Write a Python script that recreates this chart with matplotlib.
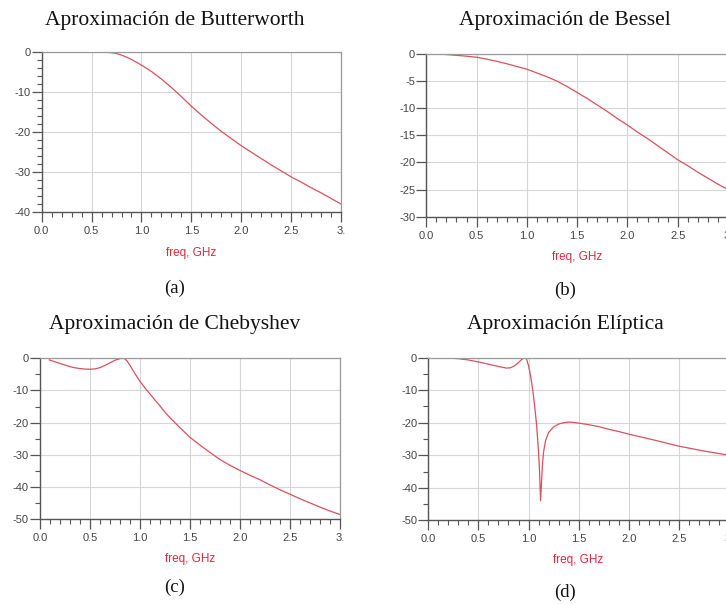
import numpy as np
import matplotlib.pyplot as plt
from matplotlib.ticker import MultipleLocator

plt.rcParams["axes.unicode_minus"] = False

# frequency response curves, freq in GHz, magnitude in dB
freq_butter = [0.0, 0.2, 0.4, 0.6, 0.65, 0.7, 0.75, 0.8, 0.85, 0.9, 0.95, 1.0, 1.05, 1.1, 1.2, 1.3,
               1.4, 1.5, 1.6, 1.7, 1.8, 1.9, 2.0, 2.1, 2.2, 2.3, 2.4, 2.5, 2.6, 2.7, 2.8, 2.9, 3.0]
db_butter = [0.0, 0.0, 0.0, 0.0, -0.02, -0.1, -0.3, -0.7, -1.2, -1.8, -2.5, -3.2, -4.0, -4.8, -6.7, -8.8,
             -11.1, -13.5, -15.7, -17.8, -19.8, -21.6, -23.4, -25.0, -26.6, -28.2, -29.7, -31.2, -32.5,
             -33.9, -35.2, -36.6, -38.0]

freq_bessel = [0.1, 0.2, 0.3, 0.4, 0.5, 0.6, 0.7, 0.8, 0.9, 1.0, 1.1, 1.2, 1.3, 1.4, 1.5, 1.6,
               1.7, 1.8, 1.9, 2.0, 2.1, 2.2, 2.3, 2.4, 2.5, 2.6, 2.7, 2.8, 2.9, 3.0]
db_bessel = [0.0, -0.1, -0.25, -0.4, -0.6, -0.95, -1.35, -1.8, -2.3, -2.8, -3.5, -4.2, -5.0, -6.0,
             -7.1, -8.2, -9.4, -10.6, -11.9, -13.1, -14.4, -15.6, -16.9, -18.2, -19.5, -20.6,
             -21.8, -22.9, -24.0, -25.0]

freq_cheby = [0.093, 0.15, 0.2, 0.25, 0.3, 0.35, 0.4, 0.45, 0.5, 0.55, 0.6, 0.65, 0.7, 0.75, 0.8,
              0.83, 0.85, 0.87, 0.9, 0.95, 1.0, 1.05, 1.1, 1.15, 1.2, 1.25, 1.3, 1.4, 1.5, 1.6, 1.7,
              1.8, 1.9, 2.0, 2.1, 2.2, 2.3, 2.4, 2.5, 2.6, 2.7, 2.8, 2.9, 3.0]
db_cheby = [-0.5, -1.1, -1.6, -2.1, -2.6, -2.95, -3.2, -3.35, -3.4, -3.3, -2.9, -2.2, -1.4, -0.6,
            -0.1, 0.0, -0.2, -0.8, -2.2, -4.8, -7.2, -9.2, -11.1, -13.0, -14.8, -16.8, -18.5, -21.6,
            -24.6, -27.0, -29.3, -31.5, -33.3, -34.9, -36.4, -37.8, -39.4, -40.9, -42.3, -43.7,
            -45.0, -46.3, -47.5, -48.6]

freq_ellip = [0.0, 0.1, 0.2, 0.3, 0.4, 0.5, 0.6, 0.7, 0.75, 0.78, 0.82, 0.86, 0.9, 0.93, 0.96, 0.98,
              1.0, 1.02, 1.04, 1.06, 1.08, 1.1, 1.11, 1.12, 1.13, 1.14, 1.15, 1.17, 1.2, 1.25, 1.3,
              1.35, 1.4, 1.45, 1.5, 1.6, 1.7, 1.8, 1.9, 2.0, 2.25, 2.5, 2.75, 3.0]
db_ellip = [0.0, 0.0, -0.1, -0.3, -0.7, -1.3, -2.0, -2.7, -3.0, -3.2, -3.1, -2.5, -1.5, -0.6, 0.0, -0.4,
            -2.5, -5.5, -9.5, -14.5, -20.5, -29.0, -35.0, -44.0, -38.0, -32.5, -29.0, -25.5, -23.0,
            -21.3, -20.4, -20.0, -19.8, -19.9, -20.1, -20.6, -21.2, -22.0, -22.7, -23.5, -25.3,
            -27.2, -28.7, -30.0]

titles = ["Aproximación de Butterworth", "Aproximación de Bessel",
          "Aproximación de Chebyshev", "Aproximación Elíptica"]
letters = ["(a)", "(b)", "(c)", "(d)"]
ylims = [-40, -30, -50, -50]
ymajor = [10, 5, 10, 10]
yminor = [2, 5, 5, 5]

W, H = 726, 604
fig = plt.figure(figsize=(W / 100, H / 100), dpi=100)

def px_axes(x0, x1, y0, y1):
    return fig.add_axes([x0 / W, 1 - y1 / H, (x1 - x0) / W, (y1 - y0) / H])

# axes boxes in pixels: left, right (at 3.0 GHz), top, bottom
boxes = [(41.7, 341, 52.3, 212), (426.3, 728, 54, 216.7),
         (40, 340, 358.3, 519), (428.3, 729, 357.7, 520.3)]
title_pos = [(175, 21), (565, 21), (175, 325), (565, 325)]
xlabel_pos = [(191, 253), (577, 257), (190, 559), (578, 560)]
letter_pos = [(175, 288), (565, 290), (175, 587), (565, 592)]

curves = [(freq_butter, db_butter), (freq_bessel, db_bessel),
          (freq_cheby, db_cheby), (freq_ellip, db_ellip)]

for i in range(4):
    ax = px_axes(*boxes[i])
    f, d = curves[i]
    ax.plot(f, d, color="#d9505e", lw=0.9)
    ax.set_xlim(0, 3.0)
    ax.set_ylim(ylims[i], 0)
    ax.xaxis.set_minor_locator(MultipleLocator(0.1))
    ax.yaxis.set_major_locator(MultipleLocator(ymajor[i]))
    ax.yaxis.set_minor_locator(MultipleLocator(yminor[i]))
    ax.set_xticks([0, 0.5, 1.0, 1.5, 2.0, 2.5, 3.0])
    ax.set_xticklabels(["0.0", "0.5", "1.0", "1.5", "2.0", "2.5", "3."])
    ax.grid(True, which="major", color="#d6d6d6", lw=0.8)
    ax.set_axisbelow(True)
    ax.tick_params(which="major", length=7, width=0.9, color="#555555",
                   labelsize=8, labelcolor="#444444", pad=3)
    ax.tick_params(which="minor", length=3.5, width=0.8, color="#555555")
    ax.tick_params(axis="y", pad=1)
    for s in ["left", "bottom"]:
        ax.spines[s].set_color("#555555")
        ax.spines[s].set_linewidth(1.0)
    for s in ["top", "right"]:
        ax.spines[s].set_color("#9a9a9a")
        ax.spines[s].set_linewidth(0.9)
    for lab in ax.get_yticklabels() + ax.get_xticklabels():
        lab.set_fontfamily("Liberation Sans")

    tx, ty = title_pos[i]
    fig.text(tx / W, 1 - ty / H, titles[i], ha="center", va="center",
             family="Liberation Serif", fontsize=15.5, color="#111111")
    lx, ly = xlabel_pos[i]
    fig.text(lx / W, 1 - ly / H, "freq, GHz", ha="center", va="center",
             family="Liberation Sans", fontsize=8.5, color="#e0283c")
    cx, cy = letter_pos[i]
    fig.text(cx / W, 1 - cy / H, letters[i], ha="center", va="center",
             family="Liberation Serif", fontsize=13.5, color="#111111")

fig.savefig("out.png", dpi=100)
